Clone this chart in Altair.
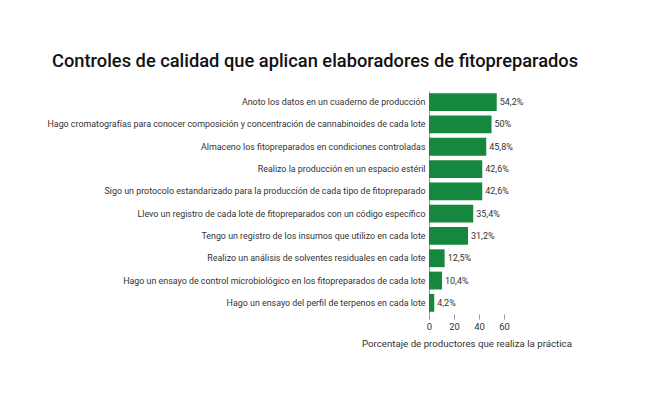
import altair as alt
import pandas as pd

categorias = [
    "Anoto los datos en un cuaderno de producción",
    "Hago cromatografías para conocer composición y concentración de cannabinoides de cada lote",
    "Almaceno los fitopreparados en condiciones controladas",
    "Realizo la producción en un espacio estéril",
    "Sigo un protocolo estandarizado para la producción de cada tipo de fitopreparado",
    "Llevo un registro de cada lote de fitopreparados con un código específico",
    "Tengo un registro de los insumos que utilizo en cada lote",
    "Realizo un análisis de solventes residuales en cada lote",
    "Hago un ensayo de control microbiológico en los fitopreparados de cada lote",
    "Hago un ensayo del perfil de terpenos en cada lote",
]
valores = [54.2, 50, 45.8, 42.6, 42.6, 35.4, 31.2, 12.5, 10.4, 4.2]
etiquetas = ["54,2%", "50%", "45,8%", "42,6%", "42,6%", "35,4%", "31,2%", "12,5%", "10,4%", "4,2%"]
ticks_x = [0, 20, 40, 60]

df = pd.DataFrame({"cat": categorias, "val": valores, "lab": etiquetas})

LABEL_FONT = "Roboto"

y_enc = alt.Y("cat:N", sort=categorias, title=None,
              scale=alt.Scale(paddingInner=0.2, paddingOuter=0.1),
              axis=alt.Axis(labelFont=LABEL_FONT, labelFontSize=8.9, labelColor="#333333",
                            ticks=False, labelPadding=4, domainColor="#999999",
                            labelLimit=500))
x_enc = alt.X("val:Q", title="Porcentaje de productores que realiza la práctica",
              scale=alt.Scale(domain=[0, 60]),
              axis=alt.Axis(values=ticks_x, grid=False, domain=False,
                            labelOverlap=False, labelFlush=False,
                            tickColor="#999999", labelFont=LABEL_FONT, labelFontSize=9.5,
                            labelColor="#333333", titleFont=LABEL_FONT, titleFontSize=9.7,
                            titleFontWeight="normal", titleColor="#333333", titlePadding=8))

base = alt.Chart(df).encode(x=x_enc, y=y_enc)
bars = base.mark_bar(color="#15873f")
text = base.mark_text(align="left", baseline="middle", dx=3, font=LABEL_FONT,
                      fontSize=9, color="#333333").encode(text="lab:N")

chart = (bars + text).properties(
    width=75, height=223,
    title=alt.TitleParams("Controles de calidad que aplican elaboradores de fitopreparados",
                          anchor="start", frame="group", dx=-377, dy=-16,
                          font="Roboto", fontSize=18.3, fontWeight=500, color="#111111"),
    autosize=alt.AutoSizeParams(type="none"),
    padding={"left": 429, "top": 91, "right": 146, "bottom": 86},
).configure_view(stroke=None)

chart.save("out.html", embed_options={"renderer": "svg", "actions": False})
